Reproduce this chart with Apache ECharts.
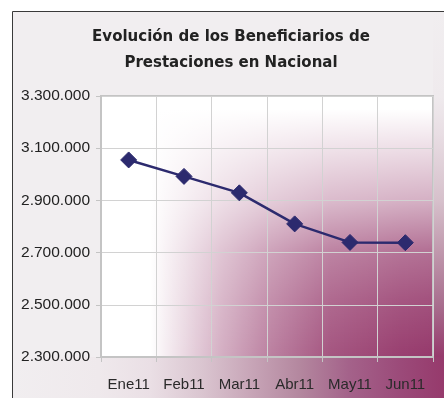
<!DOCTYPE html>
<html>
<head>
<meta charset="utf-8">
<script src="https://cdn.jsdelivr.net/npm/echarts@6/dist/echarts.min.js"></script>
<style>
  html, body { margin: 0; padding: 0; background: #ffffff; }
  #chart { width: 444px; height: 398px; }
</style>
</head>
<body>
<div id="chart"></div>
<script>
// Beneficiarios de prestaciones, enero a junio 2011
const months = ['Ene11', 'Feb11', 'Mar11', 'Abr11', 'May11', 'Jun11'];
const beneficiarios = [3055000, 2992000, 2929000, 2810000, 2739000, 2738000];
const yTicks = [2300000, 2500000, 2700000, 2900000, 3100000, 3300000];
const titleLines = ['Evolución de los Beneficiarios de', 'Prestaciones en Nacional'];

const W = 444, H = 398;
const frame = { x: 12, y: 11 };
const plot = { left: 101, top: 96, right: 11, bottom: 41 };
const plotW = W - plot.left - plot.right;
const plotH = H - plot.top - plot.bottom;
const plum = '#963a6c';

// thousands separator with dots
function fmt(v) {
  return String(v).replace(/\B(?=(\d{3})+(?!\d))/g, '.');
}

function stops(list) {
  return list.map(([offset, color]) => ({ offset, color }));
}
function white(a) { return 'rgba(255,255,255,' + a + ')'; }

const chart = echarts.init(document.getElementById('chart'), null, { renderer: 'canvas' });

chart.setOption({
  backgroundColor: '#ffffff',
  animation: false,
  graphic: [
    {
      // outer panel
      type: 'rect', z: -30, silent: true,
      shape: { x: frame.x + 0.5, y: frame.y + 0.5, width: 600, height: 600 },
      style: { stroke: '#3a3a3a', lineWidth: 1, fill: '#f1eef0' }
    },
    {
      // band under the plot, fading to plum on the right
      type: 'rect', z: -25, silent: true,
      shape: { x: frame.x + 1, y: H - plot.bottom, width: W - frame.x - 1, height: plot.bottom },
      style: {
        fill: {
          type: 'linear', x: frame.x, y: 0, x2: W, y2: 0, global: true,
          colorStops: stops([
            [0, '#f1eef0'], [0.2, '#efe9ec'], [0.32, '#eadfe5'], [0.44, '#dac5d0'],
            [0.55, '#c8a6b8'], [0.67, '#b3869e'], [0.78, '#a4628a'], [0.9, '#9b4a79'], [1, plum]
          ])
        }
      }
    },
    {
      // band right of the plot, fading to plum at the bottom
      type: 'rect', z: -25, silent: true,
      shape: { x: W - plot.right, y: frame.y + 1, width: plot.right, height: H - plot.bottom - frame.y - 1 },
      style: {
        fill: {
          type: 'linear', x: 0, y: frame.y, x2: 0, y2: H - plot.bottom, global: true,
          colorStops: stops([
            [0, '#f1eef0'], [0.25, '#efeaed'], [0.36, '#e8dde3'], [0.55, '#d6c0cb'],
            [0.7, '#bf97ac'], [0.85, '#a86e8e'], [1, plum]
          ])
        }
      }
    },
    {
      // plot base colour
      type: 'rect', z: -22, silent: true,
      shape: { x: plot.left, y: plot.top, width: plotW, height: plotH },
      style: { fill: plum }
    },
    {
      // white fading in from the left of the plot
      type: 'rect', z: -20, silent: true,
      shape: { x: plot.left, y: plot.top, width: plotW, height: plotH },
      style: {
        fill: {
          type: 'linear', x: 0, y: 0, x2: 1, y2: 0,
          colorStops: stops([
            [0, white(1)], [0.15, white(1)], [0.36, white(0.6)], [0.51, white(0.36)],
            [0.69, white(0.14)], [0.9, white(0.03)], [1, white(0)]
          ])
        }
      }
    },
    {
      // white fading in from the top of the plot
      type: 'rect', z: -19, silent: true,
      shape: { x: plot.left, y: plot.top, width: plotW, height: plotH },
      style: {
        fill: {
          type: 'linear', x: 0, y: 0, x2: 0, y2: 1,
          colorStops: stops([
            [0, white(1)], [0.05, white(1)], [0.21, white(0.82)], [0.4, white(0.6)],
            [0.59, white(0.28)], [0.78, white(0.12)], [0.97, white(0.01)], [1, white(0)]
          ])
        }
      }
    },
    {
      type: 'text', z: 10, silent: true,
      x: 231, y: 50,
      style: {
        text: titleLines.join('\n'),
        fontFamily: 'DejaVu Sans',
        fontWeight: 'bold',
        fontSize: 15,
        lineHeight: 26,
        fill: '#222222',
        align: 'center',
        verticalAlign: 'middle'
      }
    }
  ],
  grid: {
    left: plot.left, top: plot.top, right: plot.right, bottom: plot.bottom,
    show: true,
    backgroundColor: 'transparent',
    borderColor: '#c4c4c4',
    borderWidth: 2
  },
  xAxis: {
    type: 'category',
    data: months,
    boundaryGap: true,
    axisLine: { show: true, lineStyle: { color: '#c4c4c4', width: 2 } },
    axisTick: { show: true, interval: 0, length: 5, lineStyle: { color: '#c4c4c4', width: 1 } },
    splitLine: { show: true, interval: 0, lineStyle: { color: '#d2d2d2', width: 1 } },
    axisLabel: {
      interval: 0,
      margin: 20,
      fontFamily: 'Liberation Sans, Arial, sans-serif',
      fontSize: 15,
      color: '#2a2a2a'
    }
  },
  yAxis: {
    type: 'value',
    min: yTicks[0],
    max: yTicks[yTicks.length - 1],
    interval: yTicks[1] - yTicks[0],
    axisLine: { show: true, lineStyle: { color: '#c4c4c4', width: 2 } },
    axisTick: { show: true, length: 5, lineStyle: { color: '#c4c4c4', width: 1 } },
    splitLine: { show: true, lineStyle: { color: '#d2d2d2', width: 1 } },
    axisLabel: {
      margin: 11,
      fontFamily: 'Liberation Sans, Arial, sans-serif',
      fontSize: 15.5,
      color: '#222222',
      formatter: fmt
    }
  },
  series: [{
    type: 'line',
    data: beneficiarios,
    symbol: 'diamond',
    symbolSize: 16,
    showAllSymbol: true,
    lineStyle: { color: '#2c2a6e', width: 2.5 },
    itemStyle: { color: '#2c2a6e', borderColor: '#2c2a6e' },
    z: 5
  }]
});
</script>
</body>
</html>
